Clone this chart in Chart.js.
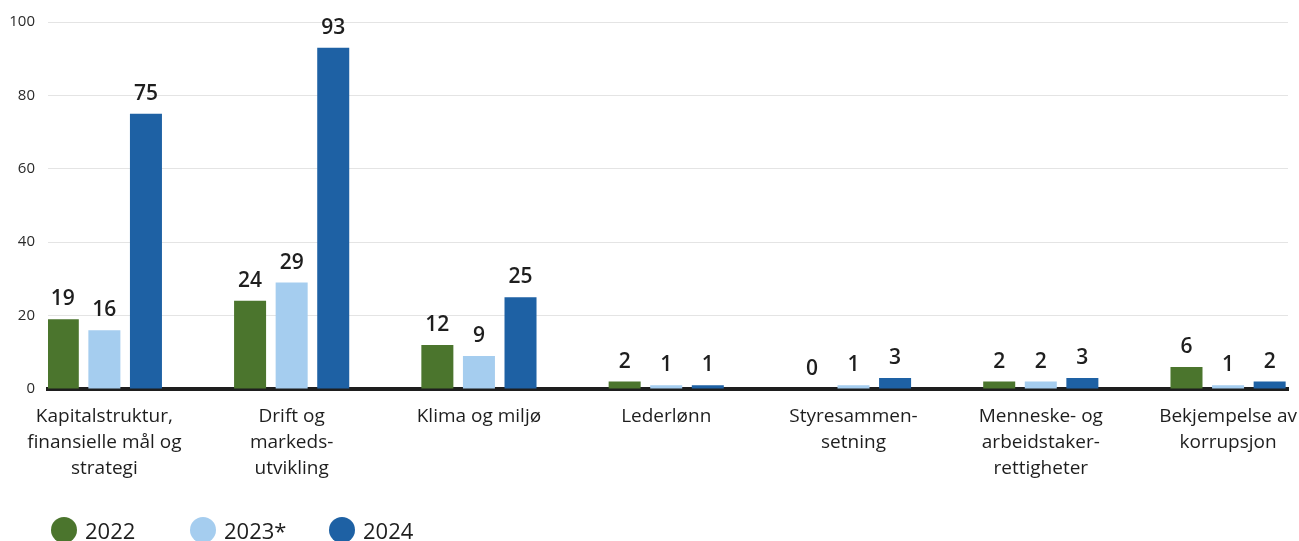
<!DOCTYPE html>
<html lang="no">
<head>
<meta charset="utf-8">
<title>Saker i eierdialoger</title>
<script src="https://cdn.jsdelivr.net/npm/chart.js@4.4.1/dist/chart.umd.min.js"></script>
<style>
  html, body { margin: 0; padding: 0; background: #fff; }
  #wrap { position: relative; width: 1299px; height: 541px; }
  #legend {
    position: absolute; left: 51px; top: 515px;
    display: flex; font-family: "Open Sans", sans-serif; font-size: 22px;
    color: #1e1e1e;
  }
  #legend .item { display: flex; align-items: center; width: 139px; }
  #legend .dot { width: 26px; height: 26px; border-radius: 50%; margin-right: 8px; }
</style>
</head>
<body>
<div id="wrap">
  <canvas id="chart"></canvas>
  <div id="legend"></div>
</div>
<script>
// Categories (one label line per array entry)
const categories = [
  ['Kapitalstruktur,', 'finansielle mål og', 'strategi'],
  ['Drift og', 'markeds-', 'utvikling'],
  ['Klima og miljø'],
  ['Lederlønn'],
  ['Styresammen-', 'setning'],
  ['Menneske- og', 'arbeidstaker-', 'rettigheter'],
  ['Bekjempelse av', 'korrupsjon']
];

const seriesNames = ['2022', '2023*', '2024'];
const values2022 = [19, 24, 12, 2, 0, 2, 6];
const values2023 = [16, 29, 9, 1, 1, 2, 1];
const values2024 = [75, 93, 25, 1, 3, 3, 2];

const yTicks = [0, 20, 40, 60, 80, 100];

const colors = ['#4b752d', '#a5cdef', '#1e61a4'];
const textColor = '#1e1e1e';

// bars sit on a numeric x axis so the groups can be placed inside the gridline span
const toPoints = vals => vals.map((v, i) => ({ x: i, y: v }));

const datasets = [values2022, values2023, values2024].map((vals, i) => ({
  label: seriesNames[i],
  data: toPoints(vals),
  backgroundColor: colors[i],
  borderWidth: 0,
  categoryPercentage: 0.666,
  barPercentage: 0.77
}));

// value labels above each bar
const valueLabels = {
  id: 'valueLabels',
  afterDatasetsDraw(chart) {
    const ctx = chart.ctx;
    ctx.save();
    ctx.font = '600 21px "Open Sans", sans-serif';
    ctx.fillStyle = textColor;
    ctx.textAlign = 'center';
    ctx.textBaseline = 'alphabetic';
    chart.data.datasets.forEach((ds, di) => {
      chart.getDatasetMeta(di).data.forEach((bar, i) => {
        ctx.fillText(String(ds.data[i].y), bar.x, bar.y - 14);
      });
    });
    ctx.restore();
  }
};

const chart = new Chart(document.getElementById('chart'), {
  type: 'bar',
  data: { datasets },
  options: {
    responsive: true,
    maintainAspectRatio: false,
    animation: false,
    layout: { padding: { top: 21, right: 11, bottom: 44, left: 0 } },
    plugins: {
      legend: { display: false },
      tooltip: { enabled: false }
    },
    scales: {
      x: {
        type: 'linear',
        offset: false,
        min: -0.301,
        max: 6.32,
        z: 1,
        grid: { display: false, drawTicks: false, offset: false },
        border: { display: true, color: '#1e1e1e', width: 4 },
        afterBuildTicks: scale => {
          scale.ticks = categories.map((c, i) => ({ value: i }));
        },
        // the last label may hang past the plot edge, don't shrink the plot for it
        afterFit: scale => {
          scale.paddingLeft = 0;
          scale.paddingRight = 0;
        },
        ticks: {
          autoSkip: false,
          maxRotation: 0,
          padding: 15,
          color: textColor,
          font: { family: '"Open Sans", sans-serif', size: 19, lineHeight: 1.37 },
          callback: v => categories[v] || ''
        }
      },
      y: {
        min: 0,
        max: 100,
        afterFit: scale => { scale.width = 48; },
        afterBuildTicks: scale => {
          scale.ticks = yTicks.map(v => ({ value: v }));
        },
        grid: { color: '#e4e4e4', lineWidth: 1, drawTicks: false },
        border: { display: false },
        ticks: {
          padding: 13,
          color: '#2a2a2a',
          font: { family: '"Open Sans", sans-serif', size: 15 }
        }
      }
    }
  },
  plugins: [valueLabels]
});

// legend built from the chart's datasets
const legendEl = document.getElementById('legend');
chart.data.datasets.forEach(ds => {
  const item = document.createElement('div');
  item.className = 'item';
  item.innerHTML = `<span class="dot" style="background:${ds.backgroundColor}"></span><span>${ds.label}</span>`;
  legendEl.appendChild(item);
});
</script>
</body>
</html>
